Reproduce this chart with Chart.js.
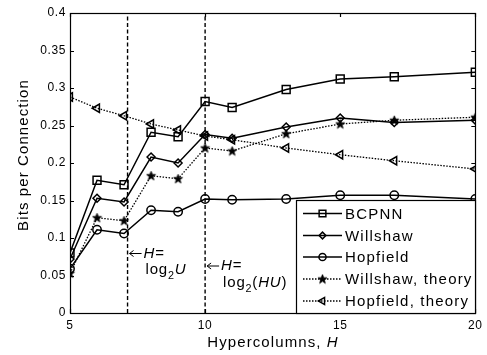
<!DOCTYPE html>
<html><head><meta charset="utf-8">
<script src="https://cdn.jsdelivr.net/npm/chart.js@4/dist/chart.umd.min.js"></script>
<style>html,body{margin:0;padding:0;background:#fff}canvas{display:block}</style>
</head><body>
<canvas id="c" width="487" height="355"></canvas>
<script>
const hypercolumns = [5, 6, 7, 8, 9, 10, 11, 13, 15, 17, 20];
const bcpnn        = [0.080, 0.177, 0.171, 0.241, 0.235, 0.282, 0.274, 0.298, 0.312, 0.315, 0.321];
const willshaw     = [0.072, 0.153, 0.148, 0.208, 0.200, 0.238, 0.233, 0.248, 0.260, 0.254, 0.257];
const hopfield     = [0.059, 0.111, 0.106, 0.137, 0.135, 0.152, 0.151, 0.152, 0.157, 0.157, 0.152];
const willshawTheory = [0.053, 0.127, 0.123, 0.183, 0.179, 0.220, 0.216, 0.239, 0.252, 0.257, 0.261];
const hopfieldTheory = [0.288, 0.273, 0.263, 0.252, 0.244, 0.236, 0.231, 0.220, 0.211, 0.203, 0.192];
const seriesNames = ['BCPNN', 'Willshaw', 'Hopfield', 'Willshaw, theory', 'Hopfield, theory'];
const markerLinesH = [7.13, 10];   // H = log2 U, H = log2(HU)
const xTickValues = [5, 10, 15, 20];
const yTickValues = [0, 0.05, 0.1, 0.15, 0.2, 0.25, 0.3, 0.35, 0.4];
const yTickLabels = ['0', '0.05', '0.1', '0.15', '0.2', '0.25', '0.3', '0.35', '0.4'];

const FONT = '"Liberation Sans", Arial, sans-serif';

function pts(ys) { return hypercolumns.map((h, i) => ({ x: h, y: ys[i] })); }

// pentagram marker
const star = document.createElement('canvas');
star.width = 11; star.height = 11;
(function () {
  const g = star.getContext('2d');
  g.beginPath();
  for (let i = 0; i < 10; i++) {
    const r = i % 2 === 0 ? 4.8 : 2.0;
    const a = -Math.PI / 2 + i * Math.PI / 5;
    const px = 5.5 + r * Math.cos(a), py = 5.8 + r * Math.sin(a);
    if (i === 0) g.moveTo(px, py); else g.lineTo(px, py);
  }
  g.closePath();
  g.fillStyle = '#000'; g.fill();
  g.lineWidth = 0.8; g.strokeStyle = '#000'; g.stroke();
})();

const base = { borderColor: '#000', borderWidth: 1.5, pointBorderColor: '#000',
  pointBackgroundColor: 'rgba(0,0,0,0)', pointBorderWidth: 1.5, tension: 0, fill: false };

const datasets = [
  Object.assign({}, base, { label: seriesNames[0], data: pts(bcpnn), pointStyle: 'rect', pointRadius: 5.6 }),
  Object.assign({}, base, { label: seriesNames[1], data: pts(willshaw), pointStyle: 'rectRot', pointRadius: 4 }),
  Object.assign({}, base, { label: seriesNames[2], data: pts(hopfield), pointStyle: 'circle', pointRadius: 4.2 }),
  Object.assign({}, base, { label: seriesNames[3], data: pts(willshawTheory), pointStyle: star, pointRadius: 5,
    borderWidth: 1.3, borderDash: [1.5, 1.5] }),
  Object.assign({}, base, { label: seriesNames[4], data: pts(hopfieldTheory), pointStyle: 'triangle', pointRotation: -90,
    pointRadius: 4.8, borderWidth: 1.3, borderDash: [1.5, 1.5] })
];
markerLinesH.forEach((h, i) => datasets.push({
  label: 'marker' + i, data: [{ x: h, y: 0 }, { x: h, y: 0.4 }], borderColor: '#000', borderWidth: 1.4,
  borderDash: [4, 2.5], pointRadius: 0, fill: false, isMarker: true
}));

function drawRich(ctx, parts, x, y, size) {
  let cx = x;
  parts.forEach(p => {
    const s = p.sub ? size * 0.72 : size;
    ctx.font = (p.italic ? 'italic ' : '') + s + 'px ' + FONT;
    const dy = p.sub ? size * 0.32 : 0;
    ctx.fillText(p.t, cx, y + dy);
    cx += ctx.measureText(p.t).width;
  });
}

const framePlugin = {
  id: 'frame',
  beforeDraw(chart) { chart.ctx.letterSpacing = '0.6px'; },
  beforeDatasetsDraw(chart) {
    const { ctx, chartArea: a, scales } = chart;
    ctx.save();
    ctx.strokeStyle = '#000'; ctx.lineWidth = 1.2;
    ctx.strokeRect(Math.round(a.left) + 0.5, Math.round(a.top) + 0.5, Math.round(a.right - a.left), Math.round(a.bottom - a.top));
    ctx.beginPath();
    const tl = 4;
    xTickValues.forEach(v => {
      const px = Math.round(scales.x.getPixelForValue(v)) + 0.5;
      ctx.moveTo(px, a.bottom); ctx.lineTo(px, a.bottom - tl);
      ctx.moveTo(px, a.top); ctx.lineTo(px, a.top + tl);
    });
    yTickValues.forEach(v => {
      const py = Math.round(scales.y.getPixelForValue(v)) + 0.5;
      ctx.moveTo(a.left, py); ctx.lineTo(a.left + tl, py);
      ctx.moveTo(a.right, py); ctx.lineTo(a.right - tl, py);
    });
    ctx.stroke();
    ctx.restore();
  },
  afterDatasetsDraw(chart) {
    const { ctx, chartArea: a, scales } = chart;
    ctx.save();
    ctx.fillStyle = '#000'; ctx.strokeStyle = '#000';
    ctx.letterSpacing = '0.8px';
    // annotations
    const x1 = scales.x.getPixelForValue(markerLinesH[0]);
    const x2 = scales.x.getPixelForValue(markerLinesH[1]);
    ctx.textBaseline = 'alphabetic'; ctx.textAlign = 'left';
    function arrow(x, y) {
      ctx.save(); ctx.lineWidth = 1; ctx.beginPath();
      ctx.moveTo(x + 12, y); ctx.lineTo(x, y);
      ctx.moveTo(x + 4, y - 3); ctx.lineTo(x, y); ctx.lineTo(x + 4, y + 3);
      ctx.stroke(); ctx.restore();
    }
    arrow(x1 + 2, 253.5);
    drawRich(ctx, [{ t: 'H', italic: true }, { t: '=' }], x1 + 16, 258, 15);
    drawRich(ctx, [{ t: 'log' }, { t: '2', sub: true }, { t: 'U', italic: true }], x1 + 18, 274, 15);
    arrow(x2 + 2, 266);
    drawRich(ctx, [{ t: 'H', italic: true }, { t: '=' }], x2 + 16, 270, 15);
    drawRich(ctx, [{ t: 'log' }, { t: '2', sub: true }, { t: '(' }, { t: 'HU', italic: true }, { t: ')' }], x2 + 18, 287, 15);

    // legend
    const lx = 296, ly = 200, lw = Math.round(a.right) - lx, lh = Math.round(a.bottom) - ly;
    ctx.fillStyle = '#fff';
    ctx.fillRect(lx, ly, lw, lh);
    ctx.lineWidth = 1.2; ctx.strokeStyle = '#000';
    ctx.strokeRect(lx + 0.5, ly + 0.5, lw, lh);
    const rows = [213.5, 235.5, 257, 279, 301];
    ctx.letterSpacing = '1.2px';
    chart.data.datasets.filter(d => !d.isMarker).forEach((d, i) => {
      const y = rows[i];
      ctx.save();
      ctx.lineWidth = d.borderWidth;
      ctx.setLineDash(d.borderDash || []);
      ctx.beginPath(); ctx.moveTo(303, y); ctx.lineTo(342, y); ctx.stroke();
      ctx.restore();
      ctx.save();
      ctx.strokeStyle = '#000'; ctx.fillStyle = 'rgba(0,0,0,0)'; ctx.lineWidth = 1.5;
      Chart.helpers.drawPoint(ctx, { pointStyle: d.pointStyle, rotation: d.pointRotation || 0,
        radius: d.pointRadius * 0.85, borderWidth: 1.5 }, 322.5, y);
      ctx.restore();
      ctx.fillStyle = '#000';
      ctx.font = '15px ' + FONT;
      ctx.textBaseline = 'middle';
      ctx.fillText(d.label, 345, y + 1);
    });

    // axis titles
    ctx.letterSpacing = '1.1px';
    ctx.textBaseline = 'alphabetic';
    ctx.font = '15px ' + FONT;
    const t1 = 'Hypercolumns, ', t2 = 'H';
    const w1 = ctx.measureText(t1).width;
    ctx.font = 'italic 15px ' + FONT;
    const w2 = ctx.measureText(t2).width;
    const sx = 273 - (w1 + w2) / 2;
    ctx.font = '15px ' + FONT; ctx.fillText(t1, sx, 347);
    ctx.font = 'italic 15px ' + FONT; ctx.fillText(t2, sx + w1, 347);

    ctx.save();
    ctx.translate(24, 155); ctx.rotate(-Math.PI / 2);
    ctx.font = '15px ' + FONT; ctx.textAlign = 'center'; ctx.textBaseline = 'middle';
    ctx.fillText('Bits per Connection', 0, 0);
    ctx.restore();
    ctx.restore();
  }
};

new Chart(document.getElementById('c'), {
  type: 'line',
  data: { datasets },
  plugins: [framePlugin],
  options: {
    responsive: false, animation: false, devicePixelRatio: 1,
    layout: { padding: { left: 0, top: 13, right: 9, bottom: 0 } },
    plugins: { legend: { display: false }, tooltip: { enabled: false } },
    scales: {
      x: {
        type: 'linear', min: 5, max: 20,
        afterBuildTicks: s => { s.ticks = xTickValues.map(v => ({ value: v })); },
        afterFit: s => { s.height = 42; },
        grid: { display: false, drawTicks: false }, border: { display: false },
        ticks: { color: '#000', font: { family: FONT, size: 12 }, padding: 5, maxRotation: 0, autoSkip: false,
          callback: v => String(v) }
      },
      y: {
        type: 'linear', min: 0, max: 0.4,
        afterBuildTicks: s => { s.ticks = yTickValues.map(v => ({ value: v })); },
        afterFit: s => { s.width = 70; },
        grid: { display: false, drawTicks: false }, border: { display: false },
        ticks: { color: '#000', font: { family: FONT, size: 12 }, padding: 4, autoSkip: false,
          callback: (v, i) => yTickLabels[i] }
      }
    }
  }
});
</script>
</body></html>
